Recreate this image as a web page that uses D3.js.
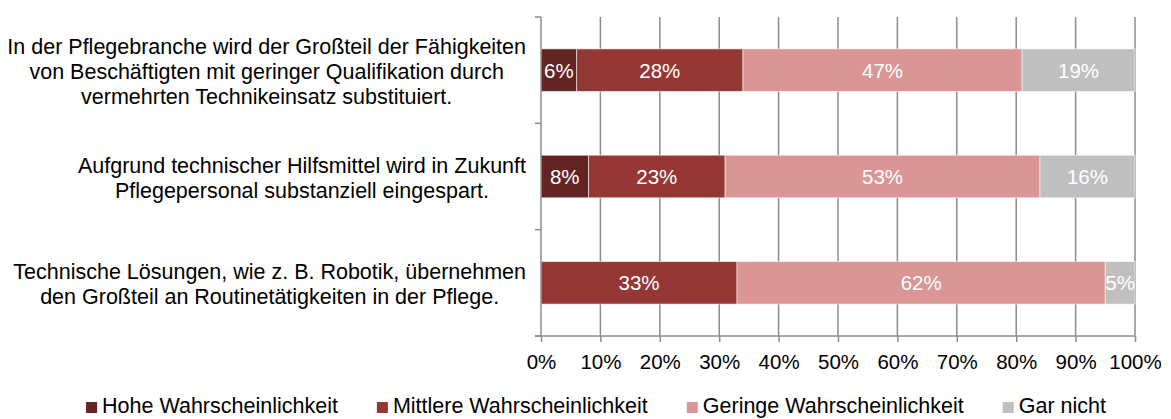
<!DOCTYPE html>
<html>
<head>
<meta charset="utf-8">
<script src="https://cdn.jsdelivr.net/npm/d3@7"></script>
<style>
  html, body { margin: 0; padding: 0; background: #fff; }
  svg { display: block; font-family: "Liberation Sans", Arial, sans-serif; }
</style>
</head>
<body>
<div id="chart"></div>
<script>
// chart data
const categories = [
  ['In der Pflegebranche wird der Großteil der Fähigkeiten', 'von Beschäftigten mit geringer Qualifikation durch', 'vermehrten Technikeinsatz substituiert.'],
  ['Aufgrund technischer Hilfsmittel wird in Zukunft', 'Pflegepersonal substanziell eingespart.'],
  ['Technische Lösungen, wie z. B. Robotik, übernehmen', 'den Großteil an Routinetätigkeiten in der Pflege.']
];
const seriesNames = ['Hohe Wahrscheinlichkeit', 'Mittlere Wahrscheinlichkeit', 'Geringe Wahrscheinlichkeit', 'Gar nicht'];
const hohe = [6, 8, 0];
const mittlere = [28, 23, 33];
const geringe = [47, 53, 62];
const garNicht = [19, 16, 5];
const xTicks = [0, 10, 20, 30, 40, 50, 60, 70, 80, 90, 100];

const colors = ['#632523', '#953735', '#D99694', '#BFBFBF'];

const width = 1171, height = 419;
const margin = { top: 17, right: 36, bottom: 83, left: 541 };
const numSize = 20.5;   // ticks and value labels
const textSize = 21.5;  // category labels and legend

const rows = categories.map((c, i) => ({
  idx: i,
  s0: hohe[i], s1: mittlere[i], s2: geringe[i], s3: garNicht[i]
}));
const keys = ['s0', 's1', 's2', 's3'];
const stacked = d3.stack().keys(keys)(rows);

const svg = d3.select('#chart').append('svg')
  .attr('width', width)
  .attr('height', height);

const x = d3.scaleLinear().domain([0, 100]).range([margin.left, width - margin.right]);
const y = d3.scaleBand().domain(d3.range(categories.length))
  .range([margin.top, height - margin.bottom])
  .paddingInner(0.6).paddingOuter(0.3);

const gridColor = '#8c8c8c';

// vertical gridlines
svg.append('g').selectAll('line').data(xTicks.slice(1)).join('line')
  .attr('x1', d => x(d)).attr('x2', d => x(d))
  .attr('y1', margin.top).attr('y2', height - margin.bottom)
  .attr('stroke', gridColor).attr('stroke-width', 1.5);

// bars
const layers = svg.append('g').selectAll('g').data(stacked).join('g')
  .attr('fill', (d, i) => colors[i]);
layers.selectAll('rect').data(d => d.filter(s => s[1] - s[0] > 0)).join('rect')
  .attr('x', d => x(d[0]))
  .attr('width', d => x(d[1]) - x(d[0]))
  .attr('y', d => y(d.data.idx))
  .attr('height', y.bandwidth())
  .attr('stroke', 'rgba(255,255,255,0.55)')
  .attr('stroke-width', 1);

// value labels
layers.selectAll('text').data(d => d.filter(s => s[1] - s[0] > 0)).join('text')
  .attr('x', d => (x(d[0]) + x(d[1])) / 2)
  .attr('y', d => y(d.data.idx) + y.bandwidth() / 2)
  .attr('dy', '0.36em')
  .attr('text-anchor', 'middle')
  .attr('fill', '#fff')
  .attr('font-size', numSize)
  .text(d => (d[1] - d[0]) + '%');

// x axis
const xAxis = svg.append('g')
  .attr('transform', `translate(0,${height - margin.bottom})`)
  .call(d3.axisBottom(x).tickValues(xTicks).tickFormat(d => d + '%').tickSize(6).tickPadding(12).tickSizeOuter(0));
xAxis.select('.domain').attr('stroke', gridColor).attr('stroke-width', 1.5)
  .attr('d', `M${margin.left - 6},0H${width - margin.right}`);
xAxis.selectAll('.tick line').attr('stroke', gridColor).attr('stroke-width', 1.5);
xAxis.selectAll('.tick text').attr('font-size', numSize).attr('fill', '#000')
  .attr('font-family', '"Liberation Sans", Arial, sans-serif');

// y axis: line with ticks at category boundaries
const bounds = d3.range(categories.length + 1).map(i => margin.top + i * y.step());
svg.append('line')
  .attr('x1', margin.left).attr('x2', margin.left)
  .attr('y1', margin.top).attr('y2', height - margin.bottom)
  .attr('stroke', gridColor).attr('stroke-width', 1.5);
svg.append('g').selectAll('line').data(bounds).join('line')
  .attr('x1', margin.left - 6).attr('x2', margin.left)
  .attr('y1', d => d).attr('y2', d => d)
  .attr('stroke', gridColor).attr('stroke-width', 1.5);

// category labels: block right-aligned next to the axis, lines centred in the block
const lineH = 25;
const labelRight = margin.left - 15;
const catG = svg.append('g').selectAll('text').data(categories).join('text')
  .attr('text-anchor', 'middle')
  .attr('font-size', textSize)
  .attr('fill', '#000');
catG.selectAll('tspan').data(d => d.map((t, j) => ({ t, j, n: d.length }))).join('tspan')
  .attr('x', 0)
  .attr('y', d => (d.j - (d.n - 1) / 2) * lineH)
  .attr('dy', '0.36em')
  .text(d => d.t);
catG.attr('transform', function(d, i) {
  const w = d3.max(Array.from(this.querySelectorAll('tspan')), n => n.getComputedTextLength());
  return `translate(${labelRight - w / 2},${y(i) + y.bandwidth() / 2 + 1})`;
});

// legend
const legend = svg.append('g').attr('transform', `translate(0,${height - 6})`);
const items = legend.selectAll('g').data(seriesNames).join('g');
items.append('rect')
  .attr('width', 11).attr('height', 11).attr('y', -11)
  .attr('fill', (d, i) => colors[i]);
items.append('text')
  .attr('x', 16).attr('y', 0)
  .attr('font-size', textSize).attr('fill', '#000')
  .text(d => d);
const gap = 39;
const widths = items.nodes().map(n => 16 + n.querySelector('text').getComputedTextLength());
const total = d3.sum(widths) + gap * (widths.length - 1);
let cx = 596 - total / 2;
items.attr('transform', (d, i) => {
  const t = `translate(${cx},0)`;
  cx += widths[i] + gap;
  return t;
});
</script>
</body>
</html>
